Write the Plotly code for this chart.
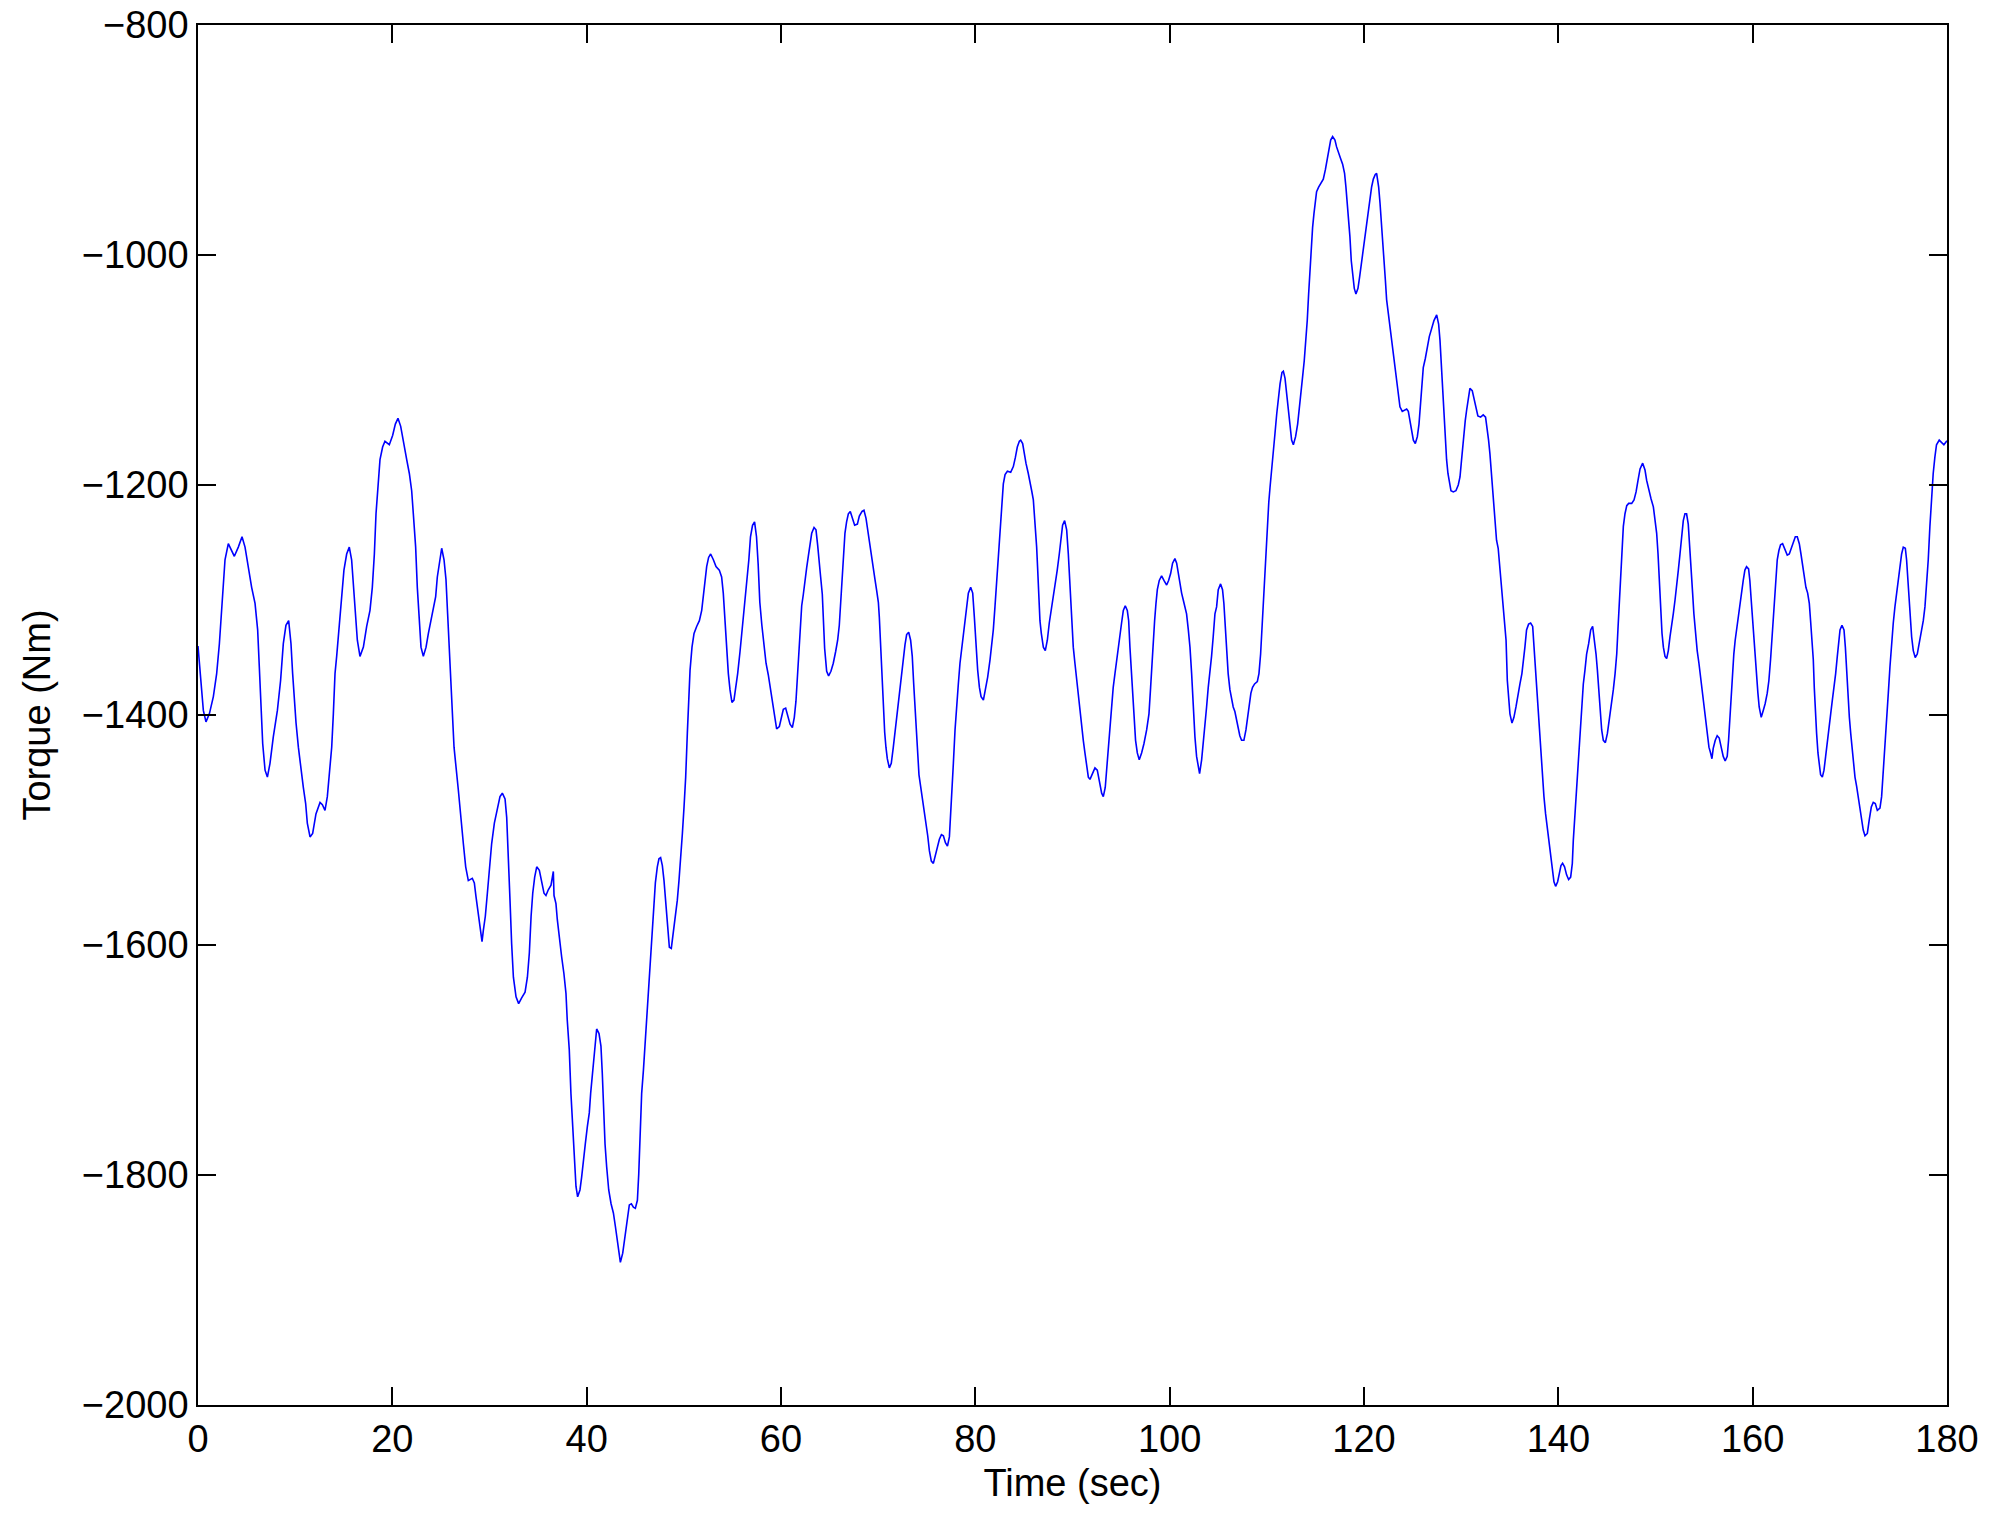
import plotly.graph_objects as go

# torque trace, time in seconds
time_s = [
    0, 0.2, 0.38, 0.55, 0.82, 1.17, 1.58, 1.92, 2.2, 2.43, 2.61, 2.78, 3.12, 3.47, 3.74, 4.15, 4.53, 4.84,
    5.18, 5.52, 5.87, 6.14, 6.31, 6.48, 6.66, 6.9, 7.14, 7.41, 7.75, 8.17, 8.5, 8.78, 9.05, 9.33, 9.57, 9.74,
    9.91, 10.09, 10.33, 10.6, 10.84, 11.08, 11.25, 11.53, 11.8, 12.14, 12.56, 12.8, 13.07, 13.31, 13.52, 13.76,
    13.93, 14.1, 14.27, 14.51, 14.79, 15.02, 15.3, 15.57, 15.81, 15.99, 16.16, 16.4, 16.67, 17.02, 17.36, 17.7,
    17.94, 18.15, 18.32, 18.56, 18.73, 19.0, 19.24, 19.69, 20.03, 20.31, 20.58, 20.86, 21.13, 21.48, 21.75, 21.99,
    22.16, 22.4, 22.57, 22.78, 22.95, 23.19, 23.47, 23.71, 23.95, 24.22, 24.46, 24.63, 24.84, 25.08, 25.32, 25.52,
    25.69, 25.86, 26.0, 26.17, 26.35, 26.79, 27.03, 27.31, 27.55, 27.82, 28.23, 28.44, 28.61, 28.85, 29.09, 29.23,
    29.37, 29.57, 29.78, 29.99, 30.22, 30.5, 30.81, 31.08, 31.32, 31.6, 31.77, 31.94, 32.11, 32.28, 32.46, 32.73,
    33.0, 33.31, 33.66, 33.9, 34.1, 34.28, 34.45, 34.65, 34.86, 35.13, 35.37, 35.61, 35.81, 36.05, 36.33, 36.57,
    36.64, 36.84, 36.98, 37.19, 37.42, 37.66, 37.87, 38.0, 38.21, 38.38, 38.55, 38.72, 38.9, 39.07, 39.31, 39.48,
    39.65, 39.86, 40.07, 40.27, 40.41, 40.58, 40.75, 40.89, 41.03, 41.27, 41.47, 41.61, 41.75, 41.89, 42.06, 42.27,
    42.51, 42.75, 42.96, 43.16, 43.33, 43.47, 43.71, 43.88, 44.05, 44.22, 44.39, 44.6, 44.81, 45.01, 45.22, 45.36,
    45.49, 45.66, 45.84, 45.97, 46.11, 46.25, 46.38, 46.52, 46.66, 46.79, 46.93, 47.07, 47.27, 47.44, 47.61, 47.79,
    47.96, 48.13, 48.3, 48.51, 48.71, 48.92, 49.13, 49.33, 49.5, 49.68, 49.85, 50.02, 50.19, 50.36, 50.5, 50.64,
    50.84, 51.05, 51.32, 51.6, 51.84, 52.01, 52.18, 52.35, 52.55, 52.76, 53.04, 53.31, 53.65, 53.89, 54.06, 54.23,
    54.4, 54.58, 54.75, 54.95, 55.16, 55.36, 55.54, 55.78, 56.05, 56.29, 56.52, 56.69, 56.86, 57.07, 57.28, 57.48,
    57.65, 57.82, 58.03, 58.25, 58.46, 58.69, 58.87, 59.1, 59.31, 59.55, 59.83, 60.03, 60.24, 60.48, 60.69, 60.93,
    61.17, 61.37, 61.54, 61.68, 61.82, 61.96, 62.13, 62.3, 62.47, 62.64, 62.81, 62.98, 63.16, 63.4, 63.6, 63.77,
    63.94, 64.08, 64.25, 64.35, 64.49, 64.7, 64.9, 65.14, 65.38, 65.62, 65.83, 66.0, 66.13, 66.27, 66.41, 66.58,
    66.75, 66.93, 67.13, 67.37, 67.58, 67.86, 68.06, 68.34, 68.54, 68.75, 68.96, 69.16, 69.33, 69.5, 69.67, 69.85,
    70.02, 70.12, 70.25, 70.39, 70.53, 70.67, 70.8, 70.94, 71.15, 71.35, 71.56, 71.73, 71.9, 72.07, 72.24, 72.42,
    72.59, 72.76, 72.93, 73.14, 73.34, 73.51, 73.65, 73.79, 73.93, 74.03, 74.2, 74.37, 74.55, 74.75, 74.92, 75.1,
    75.27, 75.47, 75.68, 75.89, 76.1, 76.3, 76.51, 76.71, 76.92, 77.13, 77.33, 77.57, 77.74, 77.91, 78.08, 78.25,
    78.42, 78.6, 78.77, 78.94, 79.11, 79.28, 79.52, 79.73, 79.9, 80.07, 80.24, 80.42, 80.59, 80.83, 81.06, 81.27,
    81.51, 81.68, 81.85, 82.02, 82.2, 82.37, 82.54, 82.71, 82.88, 83.06, 83.3, 83.64, 83.91, 84.12, 84.32, 84.53,
    84.67, 84.87, 85.04, 85.21, 85.45, 85.62, 85.8, 85.97, 86.14, 86.31, 86.42, 86.52, 86.65, 86.79, 87.0, 87.2,
    87.41, 87.61, 87.82, 88.02, 88.23, 88.43, 88.64, 88.81, 88.98, 89.19, 89.4, 89.57, 89.74, 89.91, 90.08, 90.25,
    90.43, 90.6, 90.77, 90.94, 91.11, 91.28, 91.45, 91.63, 91.8, 92.07, 92.31, 92.55, 92.83, 93.0, 93.17, 93.37,
    93.51, 93.68, 93.85, 94.02, 94.19, 94.37, 94.54, 94.71, 94.88, 95.05, 95.23, 95.43, 95.64, 95.78, 95.91, 96.05,
    96.19, 96.32, 96.49, 96.67, 96.87, 97.11, 97.35, 97.63, 97.87, 98.04, 98.18, 98.32, 98.45, 98.59, 98.73, 98.93,
    99.17, 99.41, 99.69, 99.89, 100.1, 100.3, 100.54, 100.72, 100.89, 101.06, 101.23, 101.4, 101.57, 101.74, 101.92,
    102.09, 102.26, 102.43, 102.6, 102.77, 102.95, 103.08, 103.29, 103.46, 103.63, 103.8, 103.97, 104.14, 104.31,
    104.48, 104.66, 104.83, 105.0, 105.24, 105.44, 105.58, 105.72, 105.85, 106.02, 106.2, 106.37, 106.54, 106.71,
    106.88, 107.05, 107.22, 107.4, 107.64, 107.85, 108.02, 108.19, 108.36, 108.53, 108.74, 109.02, 109.19, 109.36,
    109.5, 109.63, 109.77, 109.91, 110.05, 110.2, 110.33, 110.5, 110.67, 110.84, 111.02, 111.19, 111.36, 111.56,
    111.7, 111.87, 112.04, 112.21, 112.38, 112.55, 112.73, 112.96, 113.17, 113.34, 113.51, 113.68, 113.85, 114.03,
    114.16, 114.3, 114.44, 114.57, 114.71, 114.85, 114.99, 115.12, 115.33, 115.6, 115.81, 116.02, 116.22, 116.39,
    116.57, 116.77, 117.01, 117.18, 117.39, 117.59, 117.8, 118.0, 118.14, 118.28, 118.41, 118.55, 118.69, 118.83,
    119.0, 119.17, 119.38, 119.55, 119.72, 119.89, 120.1, 120.27, 120.44, 120.61, 120.78, 120.96, 121.16, 121.3,
    121.51, 121.65, 121.78, 121.92, 122.06, 122.2, 122.33, 122.5, 122.68, 122.85, 123.02, 123.19, 123.36, 123.53,
    123.7, 123.94, 124.15, 124.39, 124.56, 124.73, 124.9, 125.08, 125.28, 125.49, 125.66, 125.8, 125.93, 126.1,
    126.31, 126.52, 126.72, 126.96, 127.2, 127.48, 127.68, 127.82, 127.96, 128.09, 128.23, 128.37, 128.5, 128.64,
    128.78, 128.95, 129.19, 129.46, 129.7, 129.88, 130.01, 130.15, 130.29, 130.42, 130.56, 130.73, 130.9, 131.14,
    131.35, 131.52, 131.72, 132.0, 132.27, 132.51, 132.68, 132.82, 132.96, 133.1, 133.23, 133.37, 133.51, 133.64,
    133.81, 133.99, 134.16, 134.34, 134.51, 134.62, 134.75, 134.89, 135.02, 135.23, 135.43, 135.64, 135.84, 136.05,
    136.25, 136.39, 136.56, 136.73, 136.94, 137.15, 137.36, 137.5, 137.63, 137.77, 137.87, 137.97, 138.11, 138.25,
    138.38, 138.52, 138.69, 138.86, 139.03, 139.21, 139.38, 139.55, 139.72, 139.93, 140.1, 140.27, 140.44, 140.64,
    140.85, 141.06, 141.27, 141.44, 141.54, 141.68, 141.78, 141.89, 142.02, 142.16, 142.3, 142.43, 142.57, 142.74,
    142.91, 143.12, 143.33, 143.53, 143.74, 143.88, 144.02, 144.16, 144.29, 144.46, 144.63, 144.84, 145.05, 145.25,
    145.46, 145.66, 145.84, 146.01, 146.15, 146.28, 146.42, 146.56, 146.69, 146.86, 147.04, 147.24, 147.55, 147.79,
    148.0, 148.2, 148.41, 148.68, 148.92, 149.09, 149.3, 149.54, 149.78, 149.98, 150.12, 150.26, 150.39, 150.53,
    150.67, 150.81, 150.98, 151.15, 151.32, 151.49, 151.66, 151.83, 152.01, 152.18, 152.35, 152.52, 152.69, 152.86,
    153.03, 153.2, 153.37, 153.54, 153.68, 153.82, 153.95, 154.12, 154.29, 154.47, 154.64, 154.81, 154.98, 155.15,
    155.33, 155.5, 155.67, 155.81, 155.94, 156.15, 156.35, 156.56, 156.76, 156.97, 157.17, 157.38, 157.52, 157.65,
    157.79, 157.93, 158.06, 158.2, 158.34, 158.51, 158.68, 158.85, 159.03, 159.2, 159.37, 159.58, 159.71, 159.85,
    159.99, 160.12, 160.26, 160.4, 160.54, 160.67, 160.88, 161.09, 161.29, 161.5, 161.67, 161.84, 161.98, 162.12,
    162.26, 162.39, 162.53, 162.7, 162.87, 163.08, 163.29, 163.56, 163.77, 163.98, 164.18, 164.39, 164.59, 164.8,
    164.97, 165.14, 165.31, 165.48, 165.66, 165.83, 165.96, 166.1, 166.24, 166.34, 166.44, 166.58, 166.72, 166.86,
    166.99, 167.17, 167.34, 167.51, 167.68, 167.85, 168.03, 168.2, 168.37, 168.54, 168.71, 168.85, 168.99, 169.19,
    169.4, 169.54, 169.67, 169.81, 169.95, 170.09, 170.22, 170.36, 170.53, 170.7, 170.87, 171.04, 171.21, 171.38,
    171.56, 171.8, 172.0, 172.21, 172.41, 172.62, 172.83, 173.1, 173.27, 173.44, 173.61, 173.79, 173.96, 174.13,
    174.3, 174.47, 174.64, 174.81, 174.99, 175.16, 175.33, 175.5, 175.71, 175.84, 176.01, 176.18, 176.36, 176.53,
    176.73, 176.94, 177.14, 177.35, 177.56, 177.73, 177.9, 178.07, 178.24, 178.41, 178.58, 178.75, 178.92, 179.2,
    179.47, 179.68, 179.95, 180,
]

torque_nm = [
    -1340, -1358, -1378, -1396, -1406, -1399, -1384, -1364, -1338, -1312, -1283, -1265, -1251, -1258, -1262, -1254, -1245, -1254,
    -1273, -1289, -1303, -1326, -1358, -1393, -1425, -1448, -1454, -1442, -1419, -1396, -1370, -1338, -1322, -1318, -1338, -1364,
    -1390, -1407, -1428, -1448, -1463, -1477, -1494, -1506, -1503, -1486, -1476, -1478, -1483, -1471, -1448, -1428,
    -1399, -1364, -1349, -1323, -1300, -1274, -1260, -1254, -1265, -1289, -1312, -1335, -1349, -1341, -1323, -1309,
    -1289, -1260, -1225, -1196, -1178, -1167, -1162, -1165, -1157, -1147, -1142, -1149, -1163, -1178, -1190, -1205,
    -1225, -1254, -1289, -1323, -1341, -1349, -1341, -1329, -1318, -1309, -1297, -1280, -1268, -1255, -1265, -1282,
    -1312, -1341, -1378, -1407, -1428, -1465, -1489, -1512, -1532, -1544, -1542, -1546, -1558, -1573, -1587, -1597,
    -1587, -1575, -1555, -1535, -1512, -1494, -1480, -1471, -1468, -1473, -1489, -1520, -1561, -1599, -1628, -1645,
    -1651, -1646, -1641, -1628, -1607, -1575, -1555, -1541, -1532, -1535, -1546, -1555, -1557, -1552, -1548, -1536,
    -1557, -1564, -1578, -1596, -1610, -1625, -1642, -1665, -1691, -1729, -1758, -1790, -1810, -1819, -1813, -1802,
    -1787, -1773, -1758, -1746, -1729, -1712, -1694, -1683, -1673, -1677, -1688, -1712, -1746, -1773, -1793, -1813,
    -1825, -1833, -1845, -1857, -1868, -1876, -1868, -1857, -1845, -1833, -1826, -1825, -1828, -1829, -1822, -1799,
    -1770, -1729, -1709, -1691, -1671, -1657, -1642, -1619, -1602, -1584, -1564, -1546, -1532, -1525, -1524, -1531,
    -1544, -1561, -1584, -1602, -1603, -1590, -1575, -1561, -1544, -1526, -1503, -1480, -1454, -1416, -1390, -1361,
    -1341, -1329, -1323, -1318, -1309, -1297, -1283, -1271, -1263, -1260, -1265, -1271, -1274, -1280, -1294, -1318,
    -1341, -1364, -1378, -1389, -1387, -1376, -1364, -1345, -1322, -1302, -1282, -1265, -1245, -1235, -1232, -1245,
    -1269, -1302, -1322, -1339, -1355, -1365, -1375, -1388, -1402, -1412, -1410, -1402, -1395, -1394, -1400, -1408,
    -1411, -1402, -1388, -1368, -1342, -1322, -1305, -1295, -1282, -1272, -1262, -1252, -1242, -1237, -1239, -1252,
    -1265, -1280, -1295, -1322, -1342, -1362, -1366, -1362, -1355, -1345, -1335, -1322, -1302, -1282, -1259, -1242,
    -1232, -1225, -1223, -1229, -1235, -1234, -1227, -1223, -1222, -1229, -1242, -1252, -1262, -1272, -1282, -1292,
    -1302, -1315, -1342, -1368, -1392, -1415, -1428, -1438, -1446, -1442, -1428, -1415, -1402, -1388, -1375, -1362,
    -1349, -1339, -1330, -1328, -1335, -1349, -1372, -1395, -1415, -1435, -1452, -1462, -1472, -1482, -1492, -1505,
    -1518, -1527, -1529, -1522, -1515, -1508, -1504, -1505, -1511, -1514, -1506, -1474, -1442, -1413, -1390, -1373,
    -1355, -1341, -1329, -1318, -1306, -1294, -1289, -1294, -1315, -1341, -1361, -1376, -1384, -1387, -1378, -1367,
    -1352, -1341, -1326, -1306, -1283, -1260, -1236, -1213, -1199, -1191, -1188, -1189, -1184, -1176, -1167, -1162,
    -1161, -1164, -1173, -1181, -1190, -1196, -1205, -1213, -1231, -1254, -1274, -1294, -1318, -1329, -1341, -1344,
    -1335, -1320, -1309, -1297, -1286, -1274, -1260, -1245, -1235, -1231, -1239, -1260, -1289, -1318, -1341, -1355,
    -1370, -1381, -1393, -1407, -1422, -1433, -1445, -1454, -1456, -1451, -1446, -1448, -1460, -1468, -1471, -1463,
    -1448, -1428, -1410, -1393, -1376, -1364, -1352, -1341, -1329, -1320, -1309, -1305, -1309, -1318, -1341, -1361,
    -1384, -1404, -1422, -1433, -1439, -1433, -1425, -1413, -1399, -1376, -1355, -1332, -1318, -1303, -1291, -1283,
    -1279, -1283, -1287, -1283, -1277, -1268, -1264, -1268, -1277, -1289, -1294, -1300, -1306, -1312, -1326,
    -1341, -1364, -1393, -1419, -1436, -1445, -1451, -1439, -1425, -1410, -1393, -1376, -1364, -1349,
    -1332, -1312, -1306, -1291, -1286, -1291, -1303, -1323, -1344, -1364, -1378, -1387, -1393, -1397,
    -1404, -1410, -1418, -1422, -1422, -1413, -1402, -1390, -1381, -1376, -1373, -1371, -1364, -1347,
    -1323, -1300, -1280, -1255, -1235, -1215, -1202, -1184, -1170, -1155, -1138, -1123, -1112, -1102,
    -1101, -1107, -1121, -1135, -1150, -1161, -1165, -1158, -1147, -1135, -1121, -1106, -1092, -1074,
    -1057, -1034, -1010, -993, -976, -964, -952, -945, -941, -937, -934, -926, -916, -908,
    -900, -897, -900, -906, -912, -916, -921, -929, -941, -955, -970, -984, -1005, -1019,
    -1029, -1034, -1029, -1019, -1008, -997, -987, -976, -964, -952, -941, -934, -930, -929,
    -941, -955, -970, -981, -1002, -1022, -1039, -1051, -1063, -1074, -1086, -1097, -1112, -1123,
    -1132, -1136, -1135, -1134, -1136, -1144, -1152, -1161, -1164, -1158, -1147, -1129, -1112, -1098,
    -1090, -1080, -1071, -1064, -1057, -1052, -1060, -1074, -1097, -1118, -1138, -1158, -1178, -1190,
    -1199, -1205, -1206, -1205, -1200, -1193, -1181, -1167, -1155, -1144, -1135, -1123, -1116, -1118,
    -1126, -1135, -1140, -1141, -1139, -1141, -1150, -1161, -1173, -1187, -1202, -1216, -1231, -1248,
    -1255, -1272, -1289, -1305, -1320, -1335, -1370, -1384, -1399, -1407, -1402, -1393, -1381, -1373,
    -1364, -1355, -1341, -1326, -1321, -1320, -1323, -1341, -1358, -1376, -1390, -1407, -1425, -1439,
    -1457, -1471, -1486, -1497, -1512, -1523, -1535, -1545, -1549, -1545, -1538, -1531, -1529, -1532,
    -1539, -1543, -1541, -1529, -1509, -1491, -1474, -1457, -1439, -1422, -1404, -1387, -1373, -1361,
    -1347, -1338, -1326, -1323, -1335, -1347, -1361, -1381, -1399, -1413, -1422, -1424, -1416, -1404,
    -1390, -1378, -1364, -1347, -1323, -1300, -1277, -1254, -1236, -1225, -1218, -1216, -1216, -1213,
    -1206, -1196, -1186, -1181, -1187, -1196, -1205, -1212, -1219, -1231, -1242, -1260, -1283, -1309,
    -1329, -1341, -1349, -1351, -1344, -1332, -1323, -1312, -1300, -1289, -1274, -1260, -1245, -1231,
    -1225, -1225, -1234, -1254, -1274, -1294, -1312, -1329, -1344, -1355, -1367, -1378, -1390, -1402,
    -1416, -1428, -1433, -1438, -1429, -1422, -1418, -1420, -1428, -1436, -1440, -1436, -1422, -1404,
    -1384, -1361, -1347, -1335, -1326, -1315, -1303, -1291, -1283, -1274, -1271, -1273, -1283, -1300,
    -1318, -1335, -1349, -1364, -1381, -1393, -1402, -1396, -1390, -1381, -1370, -1352, -1335, -1318,
    -1300, -1283, -1265, -1257, -1252, -1251, -1255, -1261, -1260, -1255, -1249, -1245, -1245, -1251,
    -1260, -1271, -1280, -1289, -1294, -1303, -1318, -1335, -1352, -1376, -1396, -1416, -1433, -1445,
    -1452, -1454, -1448, -1436, -1422, -1410, -1399, -1387, -1376, -1364, -1349, -1335, -1326, -1322,
    -1326, -1341, -1364, -1384, -1402, -1416, -1428, -1442, -1454, -1462, -1471, -1483, -1491, -1500,
    -1505, -1503, -1491, -1480, -1476, -1477, -1483, -1481, -1471, -1451, -1428, -1404, -1381, -1358,
    -1335, -1320, -1306, -1294, -1283, -1271, -1260, -1254, -1255, -1265, -1289, -1312, -1332, -1344,
    -1350, -1347, -1338, -1329, -1318, -1306, -1289, -1265, -1236, -1207, -1190, -1176, -1165, -1161,
    -1163, -1165, -1162, -1162,
]

x_ticks = [0, 20, 40, 60, 80, 100, 120, 140, 160, 180]
y_ticks = [-2000, -1800, -1600, -1400, -1200, -1000, -800]

fig = go.Figure()
fig.add_trace(go.Scatter(x=time_s, y=torque_nm, mode="lines",
                         line=dict(color="#0000ff", width=1.6)))

axis_style = dict(
    showline=True, linecolor="black", linewidth=1.6, mirror="ticks",
    ticks="inside", ticklen=18, tickwidth=1.6, tickcolor="black",
    showgrid=False, zeroline=False, tickfont=dict(size=38),
    ticklabeloverflow="allow", automargin=False,
)

fig.update_xaxes(range=[0, 180], tickvals=x_ticks,
                 title=dict(text="Time (sec)", font=dict(size=38), standoff=10),
                 **axis_style)
fig.update_yaxes(range=[-2000, -800], tickvals=y_ticks,
                 title=dict(text="Torque (Nm)", font=dict(size=38), standoff=20),
                 **axis_style)

fig.update_layout(
    width=1990, height=1518,
    margin=dict(l=198, r=43, t=25, b=113),
    plot_bgcolor="white", paper_bgcolor="white",
    font=dict(family="Liberation Sans, Arial, sans-serif", color="black"),
    showlegend=False,
)

# drop the default 8px body margin so the figure fills the window exactly
fig.write_html("out.html", config={"displayModeBar": False},
               post_script="document.body.style.margin = '0';")
